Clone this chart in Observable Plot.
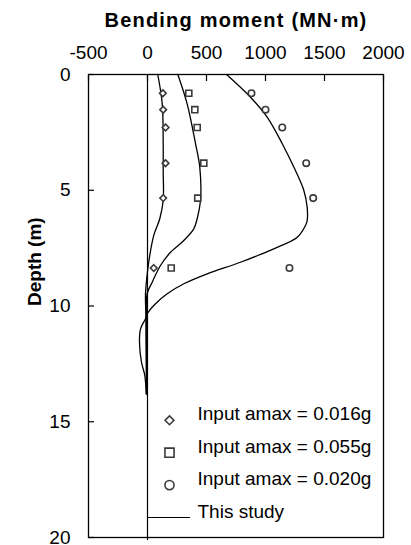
<!DOCTYPE html>
<html>
<head>
<meta charset="utf-8">
<script src="https://cdn.jsdelivr.net/npm/d3@7"></script>
<script src="https://cdn.jsdelivr.net/npm/@observablehq/plot@0.6"></script>
<style>
  html, body { margin: 0; padding: 0; background: #fff; }
  #chart svg { font-family: "Liberation Sans", Arial, sans-serif; }
  .title-text text { letter-spacing: 1.2px; }
</style>
</head>
<body>
<div id="chart"></div>
<script>
// ---- data ----
const titleText = "Bending moment (MN·m)";
const yLabelText = "Depth (m)";
const xTicks = [-500, 0, 500, 1000, 1500, 2000];
const yTicks = [0, 5, 10, 15, 20];

// measured points (depth in m, moment in MN·m)
const measDepth = [0.81, 1.52, 2.29, 3.83, 5.34, 8.36];
const meas016 = [130, 133, 153, 153, 133, 53];
const meas055 = [350, 401, 421, 477, 426, 201];
const meas020 = [881, 1000, 1142, 1345, 1404, 1203];

// "This study" curves
const curve016Depth = [0, 1.27, 2.99, 4.15, 5.44, 6.23, 6.95, 7.82, 8.39, 9.47, 10.5, 12.0, 13.8];
const curve016M     = [87, 125, 133, 133, 133, 104, 53, 19, 3, -17, -13, -10, -8];
const curve055Depth = [0, 1.27, 2.99, 4.0, 5.44, 6.23, 6.67, 7.17, 7.68, 8.25, 8.97, 9.47, 10.5, 12.0, 13.8];
const curve055M     = [257, 336, 407, 443, 449, 421, 392, 308, 195, 110, 40, -3, -10, -10, -8];
const curve020Depth = [0, 0.98, 1.84, 2.99, 4.0, 5.01, 5.73, 6.31, 6.52, 7.03, 7.53, 8.11, 8.61, 9.04, 9.47, 9.9, 10.27, 10.55, 10.99, 11.56, 12.43, 13.0, 13.8];
const curve020M     = [670, 873, 1014, 1142, 1240, 1325, 1353, 1353, 1339, 1269, 1070, 788, 506, 308, 167, 68, 6, -17, -59, -68, -51, -23, -11];

const legendLabels = ["Input amax = 0.016g", "Input amax = 0.055g", "Input amax = 0.020g", "This study"];
const legendSymbols = ["diamond2", "square", "circle", null];
const legendLineEnd = 364; // moment value where the legend line sample ends

// ---- build tables ----
const zip = (xs, ys, s) => xs.map((v, i) => ({ m: v, d: ys[i], s }));
const measured = [
  ...zip(meas016, measDepth, "diamond2"),
  ...zip(meas055, measDepth, "square"),
  ...zip(meas020, measDepth, "circle")
];
const curves = [
  ...zip(curve016M, curve016Depth, "a"),
  ...zip(curve055M, curve055Depth, "b"),
  ...zip(curve020M, curve020Depth, "c")
];
const symR = { diamond2: 4.4, square: 5.7, circle: 5.1 };

// legend layout (pixel offsets inside the frame)
const legRowGap = 32.4;
const legBottom = 20;
const legendMarks = legendLabels.flatMap((t, i) => {
  const dy = -(legBottom + (legendLabels.length - 1 - i) * legRowGap);
  const sym = legendSymbols[i];
  const marks = [
    Plot.text([t], { frameAnchor: "bottom-left", dx: 109, dy, text: d => d, textAnchor: "start", fontSize: 19, fill: "#000" })
  ];
  if (sym) {
    marks.push(Plot.dot([sym], { frameAnchor: "bottom-left", dx: 81, dy, symbol: d => d, r: symR[sym] * 0.9, stroke: "#3a3a3a", strokeWidth: 1.6, fill: "#fff" }));
  } else {
    marks.push(Plot.ruleY([yTicks[yTicks.length - 1]], { x1: 0, x2: legendLineEnd, dy, stroke: "#000", strokeWidth: 1.2 }));
  }
  return marks;
});

const font = 19;
const chart = Plot.plot({
  width: 411,
  height: 545,
  marginTop: 74,
  marginBottom: 8,
  marginLeft: 88,
  marginRight: 28,
  style: { fontFamily: '"Liberation Sans", Arial, sans-serif', fontSize: font + "px", color: "#000", background: "#fff" },
  x: { domain: [-500, 2000] },
  y: { domain: [0, 20], reverse: true },
  marks: [
    Plot.frame({ stroke: "#000", strokeWidth: 1.3 }),
    Plot.ruleX([0], { stroke: "#000", strokeWidth: 1.2, insetBottom: -3 }),
    Plot.axisX(xTicks, { anchor: "top", tickSize: -6, tickPadding: 22, tickFormat: d => String(d), label: null, fontSize: font, strokeWidth: 1.2 }),
    Plot.axisY(yTicks, { anchor: "left", tickSize: -6, tickPadding: 24, tickFormat: d => String(d), label: null, fontSize: font, strokeWidth: 1.2 }),
    Plot.line(curves, { x: "m", y: "d", z: "s", curve: "catmull-rom", stroke: "#000", strokeWidth: 1.3 }),
    Plot.dot(measured, { x: "m", y: "d", symbol: "s", r: d => symR[d.s], stroke: "#3a3a3a", strokeWidth: 1.6, fill: "#fff" }),
    ...legendMarks,
    Plot.text([titleText], { frameAnchor: "top", dy: -62, text: d => d, fontWeight: "bold", fontSize: 20, className: "title-text" }),
    Plot.text([yLabelText], { frameAnchor: "left", dx: -54, rotate: -90, text: d => d, fontWeight: "bold", fontSize: font })
  ]
});
document.getElementById("chart").appendChild(chart);
</script>
</body>
</html>
